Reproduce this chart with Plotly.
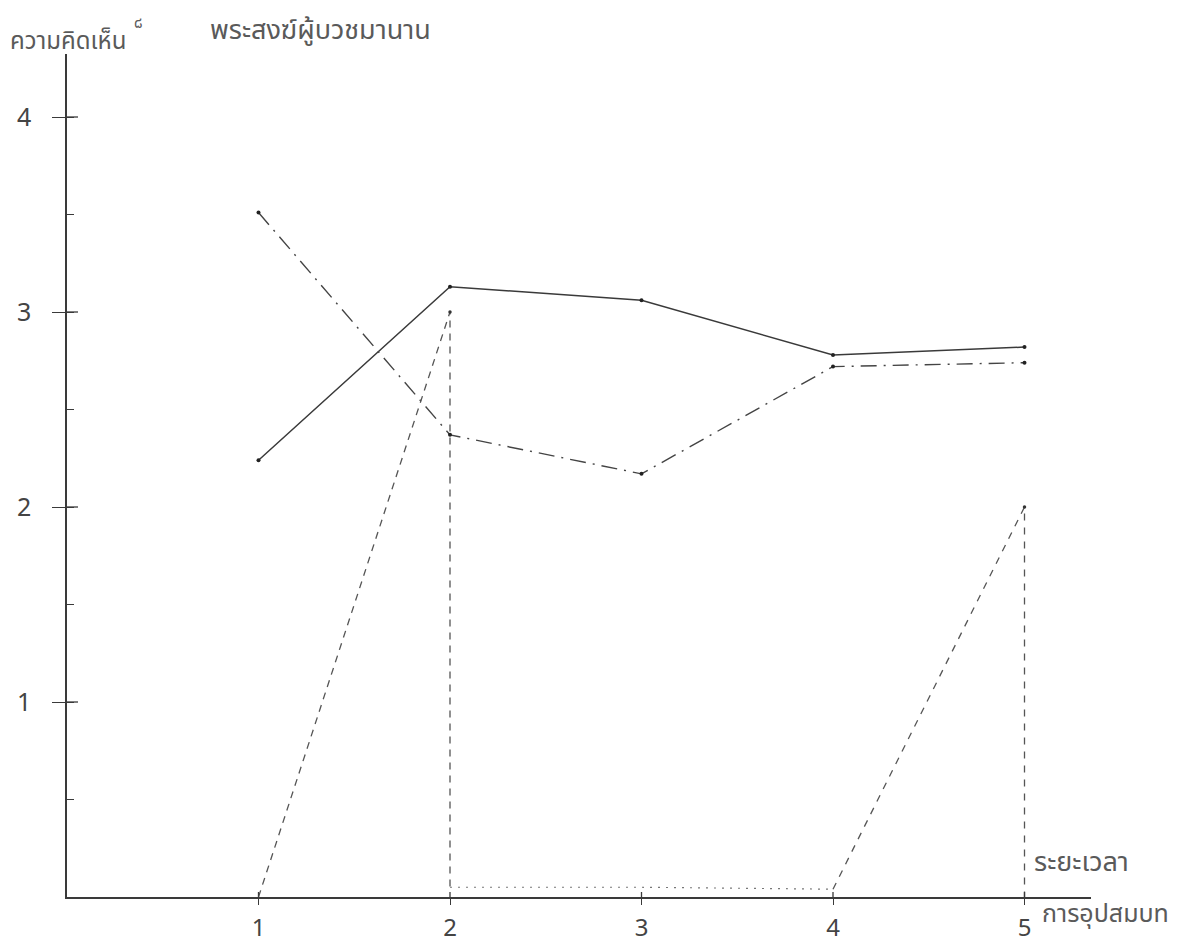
import plotly.graph_objects as go

# ---- data ----
periods = [1, 2, 3, 4, 5]
x_tick_labels = ["1", "2", "3", "4", "5"]
y_tick_vals = [1, 2, 3, 4]
y_tick_labels = ["1", "2", "3", "4"]

series_solid = [2.24, 3.13, 3.06, 2.78, 2.82]
series_dashed = [3.51, 2.37, 2.17, 2.72, 2.74]

series3_x = [1, 2, 2, 3, 4, 5, 5]
series3_y = [0.0, 3.0, 0.05, 0.05, 0.04, 2.0, 0.0]

W, H = 1191, 942
X0_PX, X_UNIT = 59, 191.5      # pixel of x=0, pixels per unit
Y0_PX, Y_UNIT = 889, 195       # pixel of y=0, pixels per unit
X_END_PX, Y_TOP_PX = 1083, 46

x_range = [0, (X_END_PX - X0_PX) / X_UNIT]
y_range = [0, (Y0_PX - Y_TOP_PX) / Y_UNIT]

LINE = "#3a3a3a"
TXT = "#5a5a5a"
FONT = "Noto Sans, Noto Sans Thai, Loma, sans-serif"

fig = go.Figure()

fig.add_trace(go.Scatter(
    x=periods, y=series_solid, mode="lines+markers",
    line=dict(color=LINE, width=1.5),
    marker=dict(size=4, color="#222"), showlegend=False, hoverinfo="skip"))

fig.add_trace(go.Scatter(
    x=periods, y=series_dashed, mode="lines+markers",
    line=dict(color="#444", width=1.4, dash="16px,7px,2px,7px"),
    marker=dict(size=4, color="#222"), showlegend=False, hoverinfo="skip"))

# third series: rise, drop, flat near zero, rise, drop
fig.add_trace(go.Scatter(
    x=series3_x[0:3], y=series3_y[0:3], mode="lines",
    line=dict(color="#555", width=1.3, dash="7px,6px"),
    showlegend=False, hoverinfo="skip"))
fig.add_trace(go.Scatter(
    x=series3_x[2:5], y=series3_y[2:5], mode="lines",
    line=dict(color="#777", width=1.2, dash="2px,6px"),
    showlegend=False, hoverinfo="skip"))
fig.add_trace(go.Scatter(
    x=series3_x[4:7], y=series3_y[4:7], mode="lines",
    line=dict(color="#555", width=1.3, dash="7px,7px"),
    showlegend=False, hoverinfo="skip"))
fig.add_trace(go.Scatter(
    x=[series3_x[1], series3_x[5]], y=[series3_y[1], series3_y[5]], mode="markers",
    marker=dict(size=3.5, color="#333"), showlegend=False, hoverinfo="skip"))

# inside halves of crossing tick marks
shapes = []
for v in y_tick_vals:
    shapes.append(dict(type="line", xref="x", yref="y", x0=0, x1=11 / X_UNIT,
                       y0=v, y1=v, line=dict(color=LINE, width=1.3)))
for v in periods:
    shapes.append(dict(type="line", xref="x", yref="y", x0=v, x1=v,
                       y0=0, y1=5 / Y_UNIT, line=dict(color=LINE, width=1.3)))

fig.update_layout(
    width=W, height=H,
    margin=dict(l=0, r=0, t=0, b=0),
    paper_bgcolor="white", plot_bgcolor="white",
    shapes=shapes,
    xaxis=dict(
        domain=[X0_PX / W, X_END_PX / W], range=x_range,
        showline=True, linecolor=LINE, linewidth=1.5, showgrid=False, zeroline=False,
        tickvals=periods, ticktext=x_tick_labels, ticks="outside", ticklen=6,
        tickcolor=LINE, tickwidth=1.3, ticklabelstandoff=2,
        tickfont=dict(family=FONT, size=24, color="#444")),
    yaxis=dict(
        domain=[1 - Y0_PX / H, 1 - Y_TOP_PX / H], range=y_range,
        showline=True, linecolor=LINE, linewidth=1.5, showgrid=False, zeroline=False,
        tickvals=y_tick_vals, ticktext=y_tick_labels, ticks="outside", ticklen=13,
        tickcolor=LINE, tickwidth=1.3, ticklabelstandoff=16,
        minor=dict(dtick=0.5, tick0=0.5, ticks="inside", ticklen=7, tickcolor=LINE, tickwidth=1.2),
        tickfont=dict(family=FONT, size=25, color="#444")),
    annotations=[
        dict(text="ความคิดเห็น", xref="paper", yref="paper", x=0, y=1 - 32 / H,
             xanchor="left", yanchor="middle", showarrow=False,
             font=dict(family=FONT, size=24, color=TXT)),
        dict(text="๘", xref="paper", yref="paper", x=124 / W, y=1 - 14 / H,
             xanchor="left", yanchor="middle", showarrow=False,
             font=dict(family=FONT, size=15, color=TXT)),
        dict(text="พระสงฆ์ผู้บวชมานาน", xref="paper", yref="paper", x=200 / W, y=1 - 21 / H,
             xanchor="left", yanchor="middle", showarrow=False,
             font=dict(family=FONT, size=27, color=TXT)),
        dict(text="ระยะเวลา", xref="paper", yref="paper", x=1024 / W, y=1 - 852 / H,
             xanchor="left", yanchor="middle", showarrow=False,
             font=dict(family=FONT, size=27, color=TXT)),
        dict(text="การอุปสมบท", xref="paper", yref="paper", x=1032 / W, y=1 - 904 / H,
             xanchor="left", yanchor="middle", showarrow=False,
             font=dict(family=FONT, size=25, color=TXT)),
    ],
)

fig.write_html("out.html")
